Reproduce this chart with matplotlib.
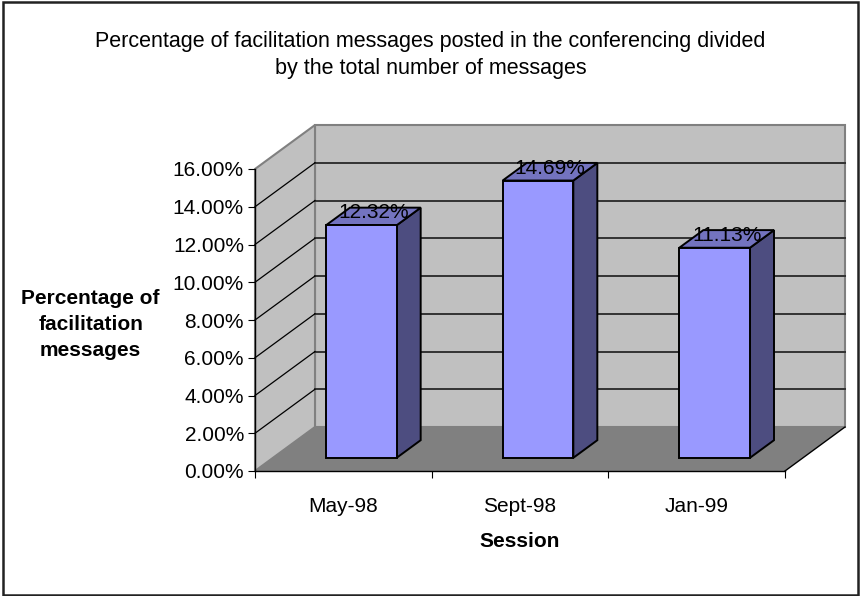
import matplotlib
matplotlib.use("Agg")
import matplotlib.pyplot as plt
from matplotlib.patches import Polygon, Rectangle

plt.rcParams['font.family'] = ['Liberation Sans', 'DejaVu Sans']

# Data
sessions = ["May-98", "Sept-98", "Jan-99"]
pct_facilitation = [12.32, 14.69, 11.13]
y_ticks = [0, 2, 4, 6, 8, 10, 12, 14, 16]

title_text = ("Percentage of facilitation messages posted in the conferencing divided\n"
              "by the total number of messages")
y_label = "Percentage of\nfacilitation\nmessages"
x_label = "Session"

# Styling
FS = 15
FS_TITLE = 15.5
FRONT = "#9999FF"
TOP = "#7373BF"
SIDE = "#4D4D80"
WALL = "#C0C0C0"
FLOOR = "#808080"
WALL_EDGE = "#808080"
GRID = "#333333"

W, H = 861, 596
fig = plt.figure(figsize=(W / 100, H / 100), dpi=100)

# front plane of the chart box (pixels -> figure fraction)
left_px, right_px, bottom_px, top_px = 255, 785, 471, 169
ax = fig.add_axes([left_px / W, 1 - bottom_px / H,
                   (right_px - left_px) / W, (bottom_px - top_px) / H])
n = len(sessions)
ymax = y_ticks[-1]
ax.set_xlim(0, n)
ax.set_ylim(0, ymax)
ax.patch.set_visible(False)

# oblique depth offset, expressed in data units
DEPTH_PX_X, DEPTH_PX_Y = 60, 44
DX = DEPTH_PX_X / ((right_px - left_px) / n)
DY = DEPTH_PX_Y / ((bottom_px - top_px) / ymax)


def proj(x, y, d):
    return (x + d * DX, y + d * DY)


def poly(pts, **kw):
    p = Polygon(pts, closed=True, clip_on=False, **kw)
    ax.add_patch(p)
    return p


# walls and floor
poly([proj(0, 0, 1), proj(n, 0, 1), proj(n, ymax, 1), proj(0, ymax, 1)],
     facecolor=WALL, edgecolor=WALL_EDGE, linewidth=1.5, zorder=1)
poly([proj(0, 0, 0), proj(0, ymax, 0), proj(0, ymax, 1), proj(0, 0, 1)],
     facecolor=WALL, edgecolor=WALL_EDGE, linewidth=1.5, zorder=1)
poly([proj(0, 0, 0), proj(n, 0, 0), proj(n, 0, 1), proj(0, 0, 1)],
     facecolor=FLOOR, edgecolor="none", zorder=1.5)
x0, y0 = proj(n, 0, 0)
x1, y1 = proj(n, 0, 1)
ax.plot([x0, x1], [y0, y1], color="black", lw=1, clip_on=False, zorder=2)

# gridlines on back wall and diagonals on side wall
for v in y_ticks[1:-1]:
    a = proj(0, v, 1)
    b = proj(n, v, 1)
    ax.plot([a[0], b[0]], [a[1], b[1]], color=GRID, lw=1.4, clip_on=False, zorder=2)
    c = proj(0, v, 0)
    ax.plot([c[0], a[0]], [c[1], a[1]], color="black", lw=0.9, clip_on=False, zorder=2)

# 3D bars
bar_w = 0.4
d_front, d_back = 0.3, 0.7
for i, v in enumerate(pct_facilitation):
    c = i + 0.5
    xl, xr = c - bar_w / 2, c + bar_w / 2
    ek = dict(edgecolor="black", linewidth=1.4, joinstyle="miter", zorder=3)
    # right side face
    poly([proj(xr, 0, d_front), proj(xr, 0, d_back), proj(xr, v, d_back), proj(xr, v, d_front)],
         facecolor=SIDE, **ek)
    # top face
    poly([proj(xl, v, d_front), proj(xr, v, d_front), proj(xr, v, d_back), proj(xl, v, d_back)],
         facecolor=TOP, **ek)
    # front face
    poly([proj(xl, 0, d_front), proj(xr, 0, d_front), proj(xr, v, d_front), proj(xl, v, d_front)],
         facecolor=FRONT, **ek)
    # value label
    ax.annotate(f"{v:.2f}%", xy=proj(c, v, 0.5), xytext=(0, 2.5), textcoords="offset points",
                ha="center", va="center", fontsize=FS, color="black", zorder=5,
                annotation_clip=False)

# axes
for s in ["top", "right"]:
    ax.spines[s].set_visible(False)
for s in ["left", "bottom"]:
    ax.spines[s].set_color("black")
    ax.spines[s].set_linewidth(1.0)
    ax.spines[s].set_zorder(4)

ax.set_yticks(y_ticks)
ax.set_yticklabels([f"{v:.2f}%" for v in y_ticks])
ax.tick_params(axis="y", direction="out", length=5, width=0.8, pad=3, labelsize=FS,
               colors="black")

ax.set_xticks(range(n + 1))
ax.set_xticklabels([""] * (n + 1))
ax.set_xticks([i + 0.5 for i in range(n)], minor=True)
ax.set_xticklabels(sessions, minor=True)
ax.tick_params(axis="x", which="major", direction="out", length=5, width=0.8)
ax.tick_params(axis="x", which="minor", length=0, pad=18.5, labelsize=FS)

ax.set_xlabel(x_label, fontsize=FS, fontweight="bold", labelpad=11.5)
ax.set_ylabel(y_label, fontsize=FS, fontweight="bold", rotation=0,
              ha="center", va="center", multialignment="center", linespacing=1.5)
ax.yaxis.set_label_coords((90.7 - left_px) / (right_px - left_px),
                          (bottom_px - 324.5) / (bottom_px - top_px))

fig.text(0.5, 1 - 55 / H, title_text, ha="center", va="center", fontsize=FS_TITLE,
         linespacing=1.4)

# outer frame
fig.patches.append(Rectangle((2.5 / W, 1.5 / H), (858 - 2.5) / W, (594 - 1.5) / H,
                             transform=fig.transFigure, fill=False,
                             edgecolor="#222222", linewidth=1.8))

fig.savefig("out.png", dpi=100)
